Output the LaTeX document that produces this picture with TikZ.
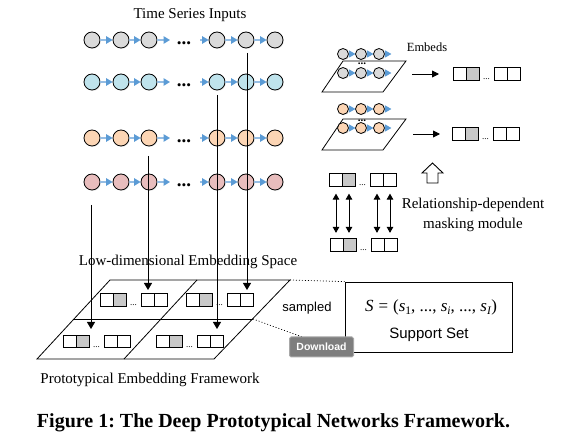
\documentclass[tikz,border=0pt]{standalone}
\usepackage{fontspec}
\setmainfont{Liberation Serif}
\setsansfont{Liberation Sans}
\usetikzlibrary{arrows.meta,shadows,calc}
\definecolor{cgray}{HTML}{DADADA}
\definecolor{cblue}{HTML}{BFE3EC}
\definecolor{corange}{HTML}{FCD5B4}
\definecolor{cpink}{HTML}{E8BDBD}
\definecolor{tipblue}{HTML}{5B9BD5}
\definecolor{lineblue}{HTML}{95BDE3}
\definecolor{boxgray}{HTML}{C8C8C8}
\definecolor{btnfill}{HTML}{7E7E7E}
\definecolor{btnedge}{HTML}{A8A8A8}
\newcommand\mysub[1]{\raisebox{-0.4ex}{\fontsize{11.5}{11.5}\selectfont #1}}
\frenchspacing
\begin{document}
\begin{tikzpicture}[x=1pt,y=-1pt,
  dot/.style={circle, draw, line width=0.8pt, minimum size=16pt, inner sep=0pt,
    drop shadow={opacity=0.22,shadow xshift=0.8pt,shadow yshift=-0.8pt}},
  sdot/.style={dot, minimum size=11pt},
  seqarrow/.style={draw=lineblue, line width=1.3pt, -{Triangle[length=6.5pt,width=7.5pt,color=tipblue]}},
  cell/.style={draw, line width=0.7pt, minimum width=13pt, minimum height=12.5pt, inner sep=0pt, fill=white,
    drop shadow={opacity=0.2,shadow xshift=0.6pt,shadow yshift=-0.6pt}},
  gcell/.style={cell, fill=boxgray},
  celldots/.style={font=\fontsize{9}{9}\selectfont, inner sep=0pt, anchor=base},
  rowdots/.style={font=\fontsize{19}{19}\selectfont\bfseries, inner sep=0pt, anchor=base},
  downarrow/.style={line width=0.9pt, -{Triangle[length=7pt,width=8pt]}},
  blackarrow/.style={line width=0.9pt, -{Triangle[length=7pt,width=7pt]}},
  biarrow/.style={line width=0.9pt, {Triangle[length=6pt,width=6.5pt]}-{Triangle[length=6pt,width=6.5pt]}},
  serif15/.style={font=\fontsize{15}{20}\selectfont, inner sep=0pt},
  plane/.style={line width=0.8pt},
  dotted line/.style={line width=0.7pt, dash pattern=on 1pt off 2pt}
]
\useasboundingbox (0,0) rectangle (582,446);

% ---------- title
\node[serif15] (tsi) at (190,15) {Time Series Inputs};

% ---------- time series rows
\foreach \r/\y/\col in {1/40/cgray, 2/82/cblue, 3/138/corange, 4/182/cpink}{
  \foreach \c/\x in {1/92,2/121,3/149,4/217,5/246,6/275}{
    \node[dot, fill=\col] (r\r c\c) at (\x,\y) {};
  }
  \coordinate (r\r a) at (170,\y);
  \coordinate (r\r b) at (200,\y);
  \node[rowdots] (r\r d) at (184,{\y+5}) {...};
  \draw[seqarrow] (r\r c1) -- (r\r c2);
  \draw[seqarrow] (r\r c2) -- (r\r c3);
  \draw[seqarrow] (r\r c3) -- (r\r a);
  \draw[seqarrow] (r\r b) -- (r\r c4);
  \draw[seqarrow] (r\r c4) -- (r\r c5);
  \draw[seqarrow] (r\r c5) -- (r\r c6);
}

% ---------- embedding plane
\node[serif15] (lowlab) at (188,262) {Low-dimensional Embedding Space};
\coordinate (pBL) at (37,359);
\coordinate (pTL) at (110,280);
\coordinate (pTR) at (290,280);
\coordinate (pBR) at (214,359);
\draw[plane] (pBL) -- (pBR) -- (pTR) -- (pTL) -- cycle;
\coordinate (pML) at (73.5,319);
\coordinate (pMR) at (253,319);
\draw[plane] (pML) -- (pMR);
\coordinate (pMT) at (197,280);
\coordinate (pMB) at (124,359);
\draw[plane] (pMT) -- (pMB);

% ---------- cell groups
\foreach \n/\x/\y in {ul/100/300, ur/186/300, ll/63/341.5, lr/156/341.5,
                      ea/453/74, eb/452/134, mt/329/180, mb/330/245}{
  \node[cell]  (\n1) at ({\x+6.5},\y) {};
  \node[gcell] (\n2) at ({\x+19.5},\y) {};
  \node[celldots] (\n d) at ({\x+33.5},{\y+6}) {...};
  \node[cell]  (\n3) at ({\x+47.5},\y) {};
  \node[cell]  (\n4) at ({\x+60.5},\y) {};
}

% ---------- vertical connectors
\coordinate (v1s) at (247,53);  \coordinate (v1e) at (247,290);
\coordinate (v2s) at (217,95);  \coordinate (v2e) at (217,329);
\coordinate (v3s) at (148,156); \coordinate (v3e) at (148,290);
\coordinate (v4s) at (91,205);  \coordinate (v4e) at (91,329);
\draw[downarrow] (v1s) -- (v1e);
\draw[downarrow] (v2s) -- (v2e);
\draw[downarrow] (v3s) -- (v3e);
\draw[downarrow] (v4s) -- (v4e);

\node[serif15] (protolab) at (150,380) {Prototypical Embedding Framework};

% ---------- support set
\node[draw, line width=0.8pt, minimum width=167pt, minimum height=70pt, inner sep=0pt,
      drop shadow={opacity=0.2,shadow xshift=0.8pt,shadow yshift=-0.8pt}, fill=white]
      (sbox) at (428.5,317) {};
\node[font=\fontsize{17}{17}\selectfont, inner sep=0pt] (smath) at (431,307)
      {\textit{S}\hspace{5pt}=\hspace{5pt}(\textit{s}\mysub{1}, ..., \textit{s}\mysub{\textit{i}}, ..., \textit{s}\mysub{\textit{I}})};
\node[font=\sffamily\fontsize{15}{15}\selectfont, inner sep=0pt] (slab) at (429,335) {Support Set};
\node[font=\sffamily\fontsize{13}{13}\selectfont, inner sep=0pt] (samp) at (307,308) {sampled};
\draw[dotted line] (pTR) -- (sbox.north west);
\draw[dotted line] (pMR) -- (sbox.south west);
\node[fill=btnfill, draw=btnedge, line width=1pt, rounded corners=1.5pt, minimum width=64pt,
      minimum height=20pt, inner sep=0pt, text=white,
      font=\sffamily\bfseries\fontsize{10.5}{10.5}\selectfont] (dl) at (321.5,347) {Download};

% ---------- embed modules (right)
\foreach \m/\yp/\ya/\yb/\yd/\col in {A/61/54/73/63/cgray, B/119/109/128/120/corange}{
  \draw[plane] (343,\yp) -- (406,\yp) -- (383,{\yp+31}) -- (322,{\yp+31}) -- cycle;
  \foreach \k/\x in {1/343,2/361,3/379}{
    \node[sdot, fill=\col] (\m a\k) at (\x,\ya) {};
    \node[sdot, fill=\col] (\m b\k) at (\x,\yb) {};
    \fill[tipblue] (\m a\k.east) -- ++(0,-3.7) -- ++(6.5,3.7) -- ++(-6.5,3.7) -- cycle;
    \fill[tipblue] (\m b\k.east) -- ++(0,-3.7) -- ++(6.5,3.7) -- ++(-6.5,3.7) -- cycle;
  }
  \node[font=\fontsize{11}{11}\selectfont\bfseries, inner sep=0pt, anchor=base] (\m dots) at (362,{\yd+2}) {...};
}
\node[font=\fontsize{12.5}{12.5}\selectfont, inner sep=0pt] (embeds) at (427,47) {Embeds};
\coordinate (ea0) at (412,74);  \coordinate (ea9) at (439,74);
\coordinate (eb0) at (413,134); \coordinate (eb9) at (440,134);
\draw[blackarrow] (ea0) -- (ea9);
\draw[blackarrow] (eb0) -- (eb9);

% ---------- hollow up arrow
\draw[line width=0.9pt, fill=white] (427,183) -- (427,173) -- (422,173) -- (432.5,163)
   -- (443,173) -- (438,173) -- (438,183) -- cycle;

% ---------- masking module
\foreach \k in {1,2,3,4}{
  \path (mt\k.south) ++(0.5,0) coordinate (mts\k);
  \path (mb\k.north) coordinate (mbn\k);
  \draw[biarrow, shorten <=7pt, shorten >=5.5pt] (mts\k) -- (mts\k |- mbn\k);
}
\node[serif15, align=center] (masklab) at (473,215) {Relationship-dependent\\masking module};

% ---------- caption
\node[font=\fontsize{20}{20}\selectfont\bfseries, inner sep=0pt] (cap) at (273.5,423)
   {Figure 1: The Deep Prototypical Networks Framework.};
\end{tikzpicture}
\end{document}
